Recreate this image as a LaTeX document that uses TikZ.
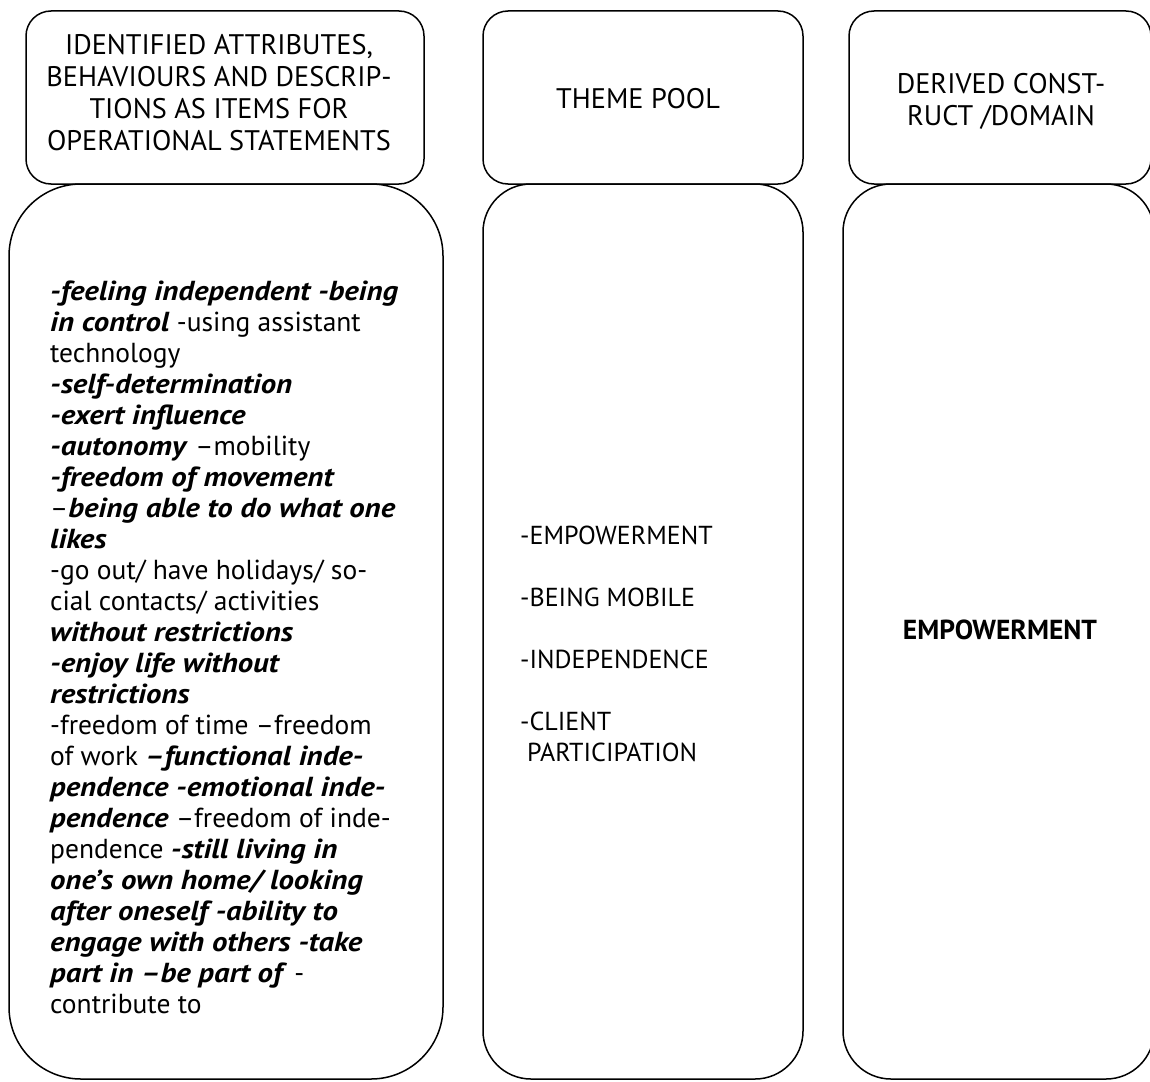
\documentclass[tikz,border=0pt]{standalone}
\usepackage{fontspec}
\setmainfont{PT Sans}[BoldItalicFeatures={FakeStretch=1.12}]
\newcommand{\bi}[1]{\textbf{\textit{#1}}}
\newcommand{\firstline}{\rule{0pt}{20pt}}
\begin{document}
\begin{tikzpicture}[x=1pt,y=-1pt,
  frame/.style={draw=black,line width=1.5pt,rectangle,inner sep=0pt},
  headbox/.style={frame,rounded corners=25pt},
  bodytext/.style={inner sep=0pt,align=left,font=\fontsize{27.5}{31}\selectfont},
  headtext/.style={inner sep=0pt,align=center,font=\fontsize{28.3}{32}\selectfont}]
\useasboundingbox (0,0) rectangle (1150,1081);
\clip (0,0) rectangle (1150,1081);

% column headers
\node[headbox,minimum width=398pt,minimum height=173pt] (h1) at (225,97.5) {};
\node[headbox,minimum width=320pt,minimum height=173pt] (h2) at (643,97.5) {};
\node[headbox,minimum width=302pt,minimum height=173pt] (h3) at (1000,97.5) {};

% column bodies
\node[frame,rounded corners=72pt,minimum width=434pt,minimum height=895pt] (b1) at (226,631.5) {};
\node[frame,rounded corners=48pt,minimum width=320pt,minimum height=895pt] (b2) at (643,631.5) {};
\node[frame,rounded corners=48pt,minimum width=311pt,minimum height=895pt] (b3) at (998.5,631.5) {};

% header texts
\node[headtext,anchor=north] (t1) at (219,34) {\firstline IDENTIFIED ATTRIBUTES,\\BEHAVIOURS AND DESCRIP-\\TIONS AS ITEMS FOR\\OPERATIONAL STATEMENTS};
\node[headtext,anchor=north] (t2) at (638,88) {\firstline THEME POOL};
\node[headtext,anchor=north] (t3) at (1001,73) {\firstline DERIVED CONST-\\RUCT /DOMAIN};

% attribute list
\node[bodytext,anchor=north west] (l1) at (50,280) {\firstline\bi{-feeling independent -being}\\
\bi{in control} -using assistant\\
technology\\
\bi{-self-determination}\\
\bi{-exert influence}\\
\bi{-autonomy} –mobility\\
\bi{-freedom of movement}\\
–\bi{being able to do what one}\\
\bi{likes}\\
-go out/ have holidays/ so-\\
cial contacts/ activities\\
\bi{without restrictions}\\
\bi{-enjoy life without}\\
\bi{restrictions}\\
-freedom of time –freedom\\
of work \bi{–functional inde-}\\
\bi{pendence -emotional inde-}\\
\bi{pendence} –freedom of inde-\\
pendence \bi{-still living in}\\
\bi{one’s own home/ looking}\\
\bi{after oneself -ability to}\\
\bi{engage with others -take}\\
\bi{part in –be part of} -\\
contribute to};

% theme pool
\node[bodytext,font=\fontsize{26}{31}\selectfont,anchor=north west] (l2) at (520,524) {\firstline -EMPOWERMENT\\[31pt]
-BEING MOBILE\\[31pt]
-INDEPENDENCE\\[31pt]
-CLIENT\\
\ PARTICIPATION};

% derived construct
\node[bodytext,font=\fontsize{27.5}{31}\selectfont\bfseries] (l3) at (1000,630) {EMPOWERMENT};
\end{tikzpicture}
\end{document}
